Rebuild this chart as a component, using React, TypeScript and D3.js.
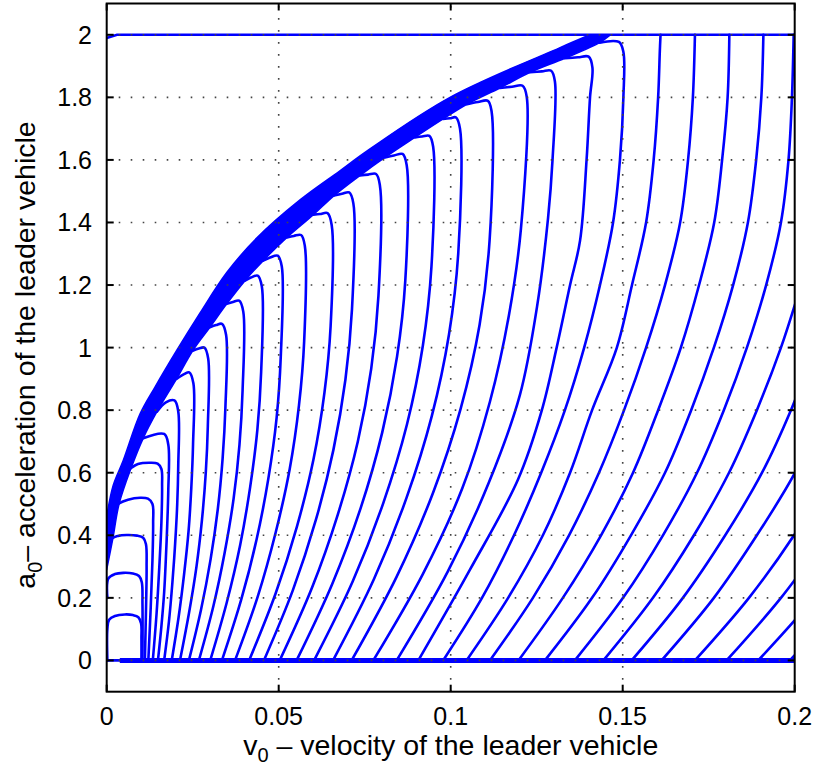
import React from 'react';
import * as d3 from 'd3';

type P = [number, number];

const W = 818;
const H = 776;
const M = { left: 106.7, right: 794.7, top: 3.5, bottom: 691.7 };

const xTicks = [0, 0.05, 0.1, 0.15, 0.2];
const xTickLabels = ['0', '0.05', '0.1', '0.15', '0.2'];
const yTicks = [0, 0.2, 0.4, 0.6, 0.8, 1, 1.2, 1.4, 1.6, 1.8, 2];
const yTickLabels = ['0', '0.2', '0.4', '0.6', '0.8', '1', '1.2', '1.4', '1.6', '1.8', '2'];

// outer edge of the dense band of converging trajectories
const envelopeUpper: P[] = [
  [0, 0.46], [0.0019, 0.56], [0.0048, 0.639], [0.0097, 0.788], [0.014, 0.873], [0.0203, 0.99],
  [0.0271, 1.11], [0.0349, 1.24], [0.0436, 1.35], [0.0562, 1.472], [0.0678, 1.565], [0.0756, 1.628],
  [0.0998, 1.8], [0.1318, 1.959], [0.1405, 2.0],
];
// inner edge of the band (where the trajectories leave it)
const envelopeLower: P[] = [
  [0, 0.29], [0.0018, 0.39], [0.0036, 0.5], [0.0071, 0.615], [0.0106, 0.71], [0.0146, 0.795],
  [0.0203, 0.9], [0.025, 0.99], [0.03, 1.065], [0.0349, 1.14], [0.0402, 1.214], [0.0455, 1.278],
  [0.0524, 1.352], [0.0601, 1.425], [0.0661, 1.486], [0.0736, 1.55], [0.0809, 1.608], [0.0896, 1.672],
  [0.0978, 1.731], [0.1047, 1.778], [0.1143, 1.83], [0.1231, 1.88], [0.1332, 1.925], [0.1433, 1.975],
  [0.1465, 2.0],
];

const saturationLine: P[] = [[0, 1.99], [0.003, 2.0], [0.2, 2.0]];
const restLine: P[] = [[0, 0], [0.2, 0]];
const restLineHeavy: P[] = [[0.0038, 0], [0.2, 0]];

// individual trajectories (v0, a0)
const k01: P[] = [[0.0002, 0], [0.0002, 0.1], [0.0007, 0.13], [0.0024, 0.142], [0.0053, 0.147], [0.0076, 0.145], [0.0092, 0.138], [0.01, 0.118], [0.0101, 0.07], [0.0101, 0]];
const k02: P[] = [[0.0002, 0.2], [0.0005, 0.262], [0.0024, 0.276], [0.0048, 0.28], [0.0076, 0.278], [0.0094, 0.27], [0.0102, 0.25], [0.0104, 0.18], [0.0104, 0]];
const k03: P[] = [[0.0002, 0.34], [0.001, 0.385], [0.0033, 0.398], [0.0059, 0.401], [0.0088, 0.399], [0.0106, 0.392], [0.0114, 0.372], [0.0116, 0.3], [0.0114, 0.15], [0.0111, 0]];
const k04: P[] = [[0.0015, 0.48], [0.0036, 0.502], [0.0062, 0.514], [0.0097, 0.52], [0.012, 0.517], [0.0133, 0.5], [0.0135, 0.44], [0.0133, 0.32], [0.0128, 0.17], [0.0121, 0]];
const k05: P[] = [[0.005, 0.595], [0.0071, 0.615], [0.0091, 0.628], [0.0126, 0.632], [0.0148, 0.629], [0.0159, 0.612], [0.0161, 0.56], [0.0159, 0.44], [0.0153, 0.3], [0.0145, 0.15], [0.0134, 0]];
const k06: P[] = [[0.0106, 0.71], [0.0167, 0.724], [0.0179, 0.69], [0.0179, 0.543], [0.0176, 0.434], [0.0172, 0.326], [0.0167, 0.217], [0.0159, 0.109], [0.0149, 0]];
const k07: P[] = [[0.0146, 0.795], [0.0172, 0.825], [0.0197, 0.831], [0.0208, 0.796], [0.0208, 0.623], [0.0205, 0.499], [0.0199, 0.374], [0.0191, 0.249], [0.0181, 0.125], [0.0167, 0]];
const k08: P[] = [[0.0203, 0.9], [0.0225, 0.915], [0.024, 0.921], [0.0252, 0.886], [0.0251, 0.691], [0.0246, 0.553], [0.0238, 0.414], [0.0225, 0.276], [0.0209, 0.138], [0.0189, 0]];
const k09: P[] = [[0.025, 0.99], [0.0268, 0.997], [0.0284, 1.0], [0.0295, 0.965], [0.0294, 0.75], [0.0288, 0.6], [0.0277, 0.45], [0.0261, 0.3], [0.0239, 0.15], [0.0213, 0]];
const k10: P[] = [[0.03, 1.065], [0.0318, 1.072], [0.0335, 1.076], [0.0347, 1.041], [0.0345, 0.807], [0.0337, 0.646], [0.0323, 0.484], [0.0302, 0.323], [0.0274, 0.161], [0.0239, 0]];
const k11: P[] = [[0.0349, 1.14], [0.0367, 1.146], [0.0385, 1.15], [0.0397, 1.115], [0.0395, 0.863], [0.0386, 0.69], [0.0369, 0.518], [0.0343, 0.345], [0.031, 0.173], [0.0268, 0]];
const k12: P[] = [[0.0402, 1.214], [0.0419, 1.224], [0.0439, 1.23], [0.0451, 1.195], [0.0449, 0.923], [0.0438, 0.738], [0.0417, 0.554], [0.0388, 0.369], [0.0349, 0.185], [0.0301, 0]];
const k13: P[] = [[0.0455, 1.278], [0.0475, 1.288], [0.0497, 1.294], [0.0509, 1.259], [0.0506, 0.971], [0.0494, 0.776], [0.047, 0.582], [0.0436, 0.388], [0.0391, 0.194], [0.0335, 0]];
const k14: P[] = [[0.0524, 1.352], [0.0544, 1.357], [0.0565, 1.36], [0.0576, 1.325], [0.0574, 1.02], [0.0559, 0.816], [0.0532, 0.612], [0.0491, 0.408], [0.0439, 0.204], [0.0373, 0]];
const k15: P[] = [[0.0601, 1.425], [0.062, 1.427], [0.0642, 1.43], [0.0654, 1.392], [0.0651, 1.07], [0.0633, 0.856], [0.0601, 0.642], [0.0553, 0.428], [0.0491, 0.214], [0.0414, 0]];
const k16: P[] = [[0.0661, 1.486], [0.0684, 1.492], [0.0705, 1.496], [0.0717, 1.461], [0.0713, 1.122], [0.0694, 0.898], [0.0659, 0.673], [0.0608, 0.449], [0.0541, 0.224], [0.0457, 0]];
const k17: P[] = [[0.0736, 1.55], [0.076, 1.553], [0.0783, 1.555], [0.0794, 1.52], [0.079, 1.166], [0.0769, 0.933], [0.073, 0.7], [0.0672, 0.467], [0.0597, 0.233], [0.0503, 0]];
const k18: P[] = [[0.0809, 1.608], [0.0835, 1.614], [0.086, 1.619], [0.0872, 1.584], [0.0868, 1.214], [0.0844, 0.971], [0.0801, 0.729], [0.0738, 0.486], [0.0655, 0.243], [0.0552, 0]];
const k19: P[] = [[0.0896, 1.672], [0.0917, 1.675], [0.0938, 1.677], [0.0949, 1.642], [0.0944, 1.258], [0.0919, 1.006], [0.0873, 0.755], [0.0804, 0.503], [0.0715, 0.252], [0.0603, 0]];
const k20: P[] = [[0.0978, 1.731], [0.0998, 1.733], [0.1015, 1.736], [0.1027, 1.7], [0.1022, 1.302], [0.0995, 1.042], [0.0945, 0.781], [0.0872, 0.521], [0.0777, 0.26], [0.0658, 0]];
const k21: P[] = [[0.1047, 1.778], [0.1079, 1.785], [0.1108, 1.789], [0.1119, 1.754], [0.1113, 1.342], [0.1084, 1.073], [0.1029, 0.805], [0.0949, 0.537], [0.0843, 0.268], [0.0712, 0]];
const k22: P[] = [[0.1143, 1.83], [0.1178, 1.834], [0.1209, 1.837], [0.1221, 1.802], [0.1204, 1.378], [0.1169, 1.102], [0.1114, 0.827], [0.1034, 0.551], [0.0919, 0.276], [0.0775, 0]];
const k23: P[] = [[0.1231, 1.88], [0.1265, 1.883], [0.1292, 1.885], [0.1303, 1.85], [0.1296, 1.6], [0.1283, 1.414], [0.1251, 1.131], [0.1201, 0.848], [0.111, 0.566], [0.0991, 0.283], [0.0843, 0]];
const k24: P[] = [[0.1332, 1.925], [0.137, 1.928], [0.1401, 1.93], [0.1412, 1.895], [0.1405, 1.8], [0.1395, 1.6], [0.1376, 1.342], [0.1347, 1.2], [0.1308, 1.0], [0.1265, 0.8], [0.1196, 0.579], [0.1056, 0.29], [0.0906, 0]];
const k25: P[] = [[0.1433, 1.975], [0.1489, 1.977], [0.1502, 1.945], [0.1502, 1.8], [0.1492, 1.6], [0.1472, 1.4], [0.1434, 1.2], [0.1388, 1.0], [0.1332, 0.8], [0.1263, 0.6], [0.1184, 0.4], [0.1091, 0.2], [0.0978, 0]];
const k26: P[] = [[0.1046, 0], [0.1167, 0.2], [0.1268, 0.4], [0.1347, 0.6], [0.1411, 0.8], [0.1483, 1.0], [0.1527, 1.2], [0.1568, 1.4], [0.159, 1.6], [0.1603, 1.8], [0.1608, 1.95], [0.161, 2.0]];
const k27: P[] = [[0.1114, 0], [0.1239, 0.2], [0.1344, 0.4], [0.1431, 0.6], [0.1504, 0.8], [0.1568, 1.0], [0.1623, 1.2], [0.1667, 1.4], [0.169, 1.6], [0.1704, 1.8], [0.171, 2.0]];
const k28: P[] = [[0.1197, 0], [0.1326, 0.2], [0.1437, 0.4], [0.153, 0.6], [0.1603, 0.8], [0.1669, 1.0], [0.1722, 1.2], [0.1766, 1.4], [0.1789, 1.6], [0.1805, 1.8], [0.181, 2.0]];
const k29: P[] = [[0.1274, 0], [0.1411, 0.2], [0.1524, 0.4], [0.1623, 0.6], [0.1699, 0.8], [0.1765, 1.0], [0.1821, 1.2], [0.1864, 1.4], [0.1888, 1.6], [0.1903, 1.8], [0.1909, 2.0]];
const k30: P[] = [[0.1361, 0], [0.1501, 0.2], [0.1617, 0.4], [0.1716, 0.6], [0.1794, 0.8], [0.1861, 1.0], [0.1917, 1.2], [0.196, 1.4], [0.1982, 1.6], [0.1992, 1.8], [0.1997, 2.0]];
const k31: P[] = [[0.1444, 0], [0.1588, 0.2], [0.1707, 0.4], [0.1809, 0.6], [0.189, 0.8], [0.196, 1.0], [0.2018, 1.2]];
const k32: P[] = [[0.1526, 0], [0.1675, 0.2], [0.1798, 0.4], [0.1905, 0.6], [0.1989, 0.8], [0.2059, 1.0]];
const k33: P[] = [[0.1613, 0], [0.1765, 0.2], [0.189, 0.4], [0.2001, 0.6], [0.2088, 0.8]];
const k34: P[] = [[0.171, 0], [0.1867, 0.2], [0.1998, 0.4], [0.2108, 0.6]];
const k35: P[] = [[0.1802, 0], [0.196, 0.2], [0.2094, 0.4]];
const k36: P[] = [[0.1894, 0], [0.2056, 0.2], [0.219, 0.4]];
const k37: P[] = [[0.1986, 0], [0.2149, 0.2], [0.228, 0.4]];

const trajectories: P[][] = [
  k01, k02, k03, k04, k05, k06, k07, k08, k09, k10, k11, k12, k13, k14, k15, k16, k17, k18, k19,
  k20, k21, k22, k23, k24, k25, k26, k27, k28, k29, k30, k31, k32, k33, k34, k35, k36, k37,
];

const BLUE = '#0000ff';
const FONT = '"Liberation Sans", Arial, Helvetica, sans-serif';

export default function App() {
  const x = d3.scaleLinear().domain([0, 0.2]).range([M.left, M.right]);
  const y = d3.scaleLinear().domain([-0.1, 2.1]).range([M.bottom, M.top]);
  const smooth = d3.line<P>().x((d) => x(d[0])).y((d) => y(d[1])).curve(d3.curveCatmullRom.alpha(0.5));
  const straight = d3.line<P>().x((d) => x(d[0])).y((d) => y(d[1]));

  const bandPath =
    (smooth(envelopeUpper) || '') +
    (smooth(envelopeLower.slice().reverse()) || '').replace(/^M/, 'L') +
    'Z';

  const tick = 7;
  return (
    <svg width={W} height={H} style={{ position: 'absolute', left: 0, top: 0, background: '#fff' }} fontFamily={FONT}>
      <defs>
        <clipPath id="plotclip">
          <rect x={M.left} y={M.top} width={M.right - M.left} height={M.bottom - M.top} />
        </clipPath>
      </defs>
      <rect x={0} y={0} width={W} height={H} fill="#fff" />
      <g clipPath="url(#plotclip)">
        <path d={bandPath} fill={BLUE} stroke={BLUE} strokeWidth={1.5} strokeLinejoin="round" />
        {trajectories.map((t, i) => (
          <path key={i} d={smooth(t) || ''} fill="none" stroke={BLUE} strokeWidth={2.6} strokeLinejoin="round" strokeLinecap="round" />
        ))}
        <path d={straight(saturationLine) || ''} fill="none" stroke={BLUE} strokeWidth={2.6} />
        <path d={straight(restLine) || ''} fill="none" stroke={BLUE} strokeWidth={2.6} />
        <path d={straight(restLineHeavy) || ''} fill="none" stroke={BLUE} strokeWidth={5} />
        {/* grid on top */}
        {xTicks.slice(1, -1).map((v, i) => (
          <line key={'gx' + i} x1={x(v)} x2={x(v)} y1={M.bottom} y2={M.top} stroke="#444" strokeWidth={1.6} strokeDasharray="1.6 10.4" />
        ))}
        {yTicks.map((v, i) => (
          <line key={'gy' + i} x1={M.left} x2={M.right} y1={y(v)} y2={y(v)} stroke="#444" strokeWidth={1.6} strokeDasharray="1.6 10.4" />
        ))}
      </g>
      {/* ticks */}
      {xTicks.map((v, i) => (
        <g key={'tx' + i} stroke="#000" strokeWidth={2}>
          <line x1={x(v)} x2={x(v)} y1={M.bottom} y2={M.bottom - tick} />
          <line x1={x(v)} x2={x(v)} y1={M.top} y2={M.top + tick} />
        </g>
      ))}
      {yTicks.map((v, i) => (
        <g key={'ty' + i} stroke="#000" strokeWidth={2}>
          <line x1={M.left} x2={M.left + tick} y1={y(v)} y2={y(v)} />
          <line x1={M.right} x2={M.right - tick} y1={y(v)} y2={y(v)} />
        </g>
      ))}
      <rect x={M.left} y={M.top} width={M.right - M.left} height={M.bottom - M.top} fill="none" stroke="#000" strokeWidth={2} />
      {xTicks.map((v, i) => (
        <text key={'lx' + i} x={x(v)} y={725} fontSize={25} textAnchor="middle" fill="#000">{xTickLabels[i]}</text>
      ))}
      {yTicks.map((v, i) => (
        <text key={'ly' + i} x={92} y={y(v) + 9} fontSize={25} textAnchor="end" fill="#000">{yTickLabels[i]}</text>
      ))}
      <text x={(M.left + M.right) / 2} y={755} fontSize={28.5} textAnchor="middle" fill="#000">
        v<tspan fontSize={20} dy={7}>0</tspan><tspan dy={-7}> – velocity of the leader vehicle</tspan>
      </text>
      <text transform={`translate(35,355) rotate(-90)`} fontSize={28.5} textAnchor="middle" fill="#000">
        a<tspan fontSize={20} dy={7}>0</tspan><tspan dy={-7}>– acceleration of the leader vehicle</tspan>
      </text>
    </svg>
  );
}
